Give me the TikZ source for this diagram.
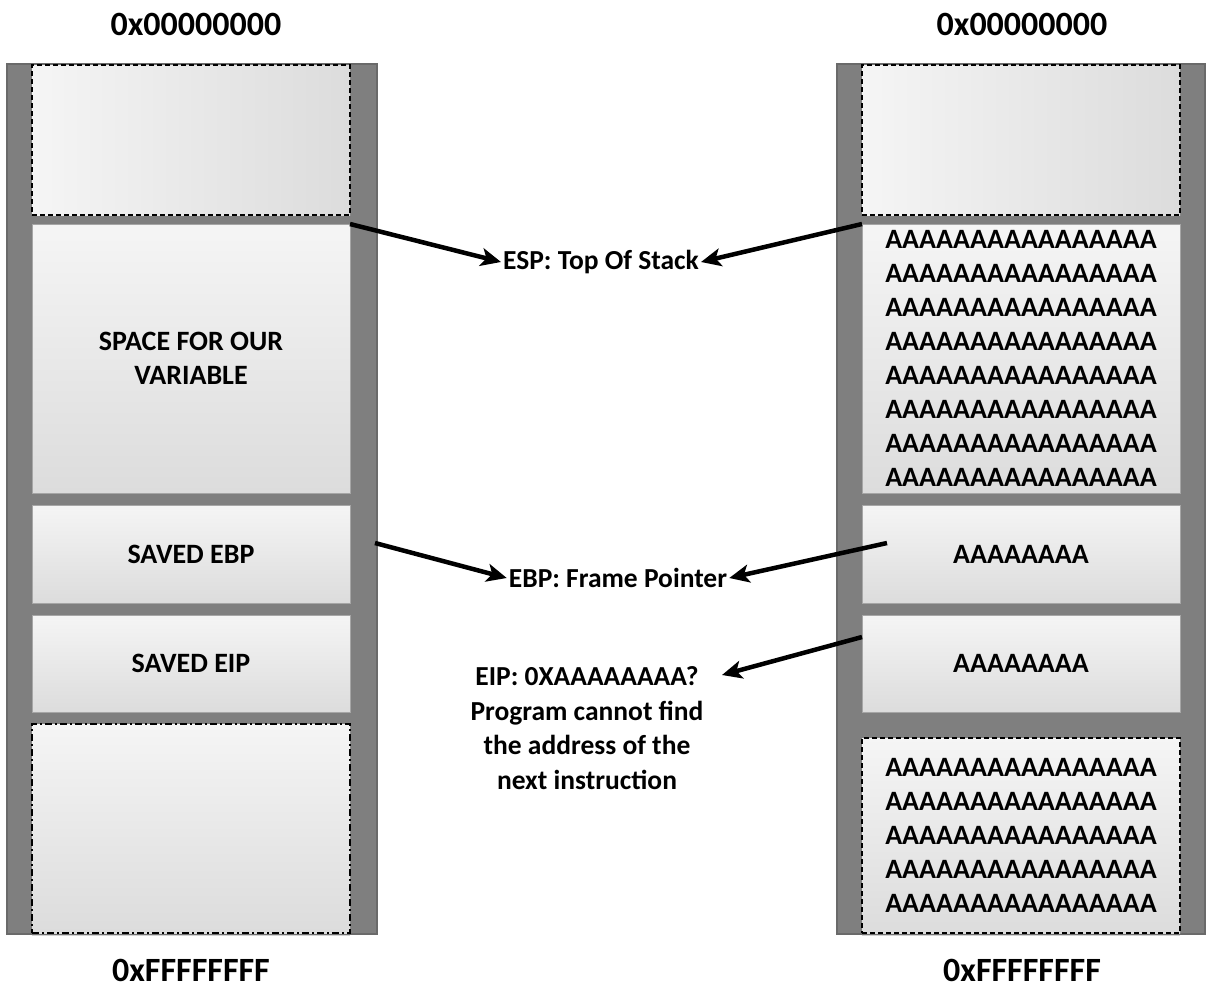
\documentclass[tikz,border=0pt]{standalone}
\usepackage{fontspec}
\setmainfont{Carlito}
\usetikzlibrary{arrows.meta,shadows}
\definecolor{colfill}{HTML}{7F7F7F}
\definecolor{coldraw}{HTML}{6A6A6A}
\definecolor{boxlight}{HTML}{F5F5F5}
\definecolor{boxdark}{HTML}{DCDCDC}
\definecolor{boxedge}{HTML}{A6A6A6}
\tikzset{
  column/.style={fill=colfill, draw=coldraw, line width=1.5pt},
  membox/.style={draw=boxedge, line width=0.8pt, top color=boxlight, bottom color=boxdark,
    minimum width=318pt, inner sep=0pt, outer sep=0pt, align=center,
    font=\bfseries\fontsize{28}{34}\selectfont,
    drop shadow={shadow xshift=0pt, shadow yshift=-3pt, opacity=0.35}},
  hbox/.style={membox, left color=boxlight, right color=boxdark},
  dashbox/.style={draw=black, line width=1.3pt, dash pattern=on 5pt off 3pt},
  dotbox/.style={draw=black, line width=1.3pt, dash pattern=on 7pt off 3pt on 2pt off 3pt},
  hexlabel/.style={font=\bfseries\fontsize{34}{40}\selectfont, inner sep=0pt},
  ptrlabel/.style={font=\bfseries\fontsize{27.5}{34.5}\selectfont, inner sep=2pt, align=center},
  ptrarrow/.style={line width=4.5pt, -{Stealth[length=20pt, width=18pt, inset=5pt]}},
}
\begin{document}
\begin{tikzpicture}[x=1pt, y=-1pt]
\useasboundingbox (0,0) rectangle (1209,993);
% columns
\path[column] (7,64) rectangle (377,934);
\path[column] (837,64) rectangle (1205,934);
% left boxes
\node[hbox, dashbox, minimum height=150pt] (ltop) at (191,140) {};
\node[membox, minimum height=269pt] (lvar) at (191,358.5) {SPACE FOR OUR\\VARIABLE};
\node[membox, minimum height=98pt] (lebp) at (191,554) {SAVED EBP};
\node[membox, minimum height=97pt] (leip) at (191,663.5) {SAVED EIP};
\node[membox, dotbox, minimum height=209pt] (lbot) at (191,828.5) {};
% right boxes
\node[hbox, dashbox, minimum height=150pt] (rtop) at (1021,140) {};
\node[membox, minimum height=269pt] (rvar) at (1021,358.5) {AAAAAAAAAAAAAAAA\\AAAAAAAAAAAAAAAA\\AAAAAAAAAAAAAAAA\\AAAAAAAAAAAAAAAA\\AAAAAAAAAAAAAAAA\\AAAAAAAAAAAAAAAA\\AAAAAAAAAAAAAAAA\\AAAAAAAAAAAAAAAA};
\node[membox, minimum height=98pt] (rebp) at (1021,554) {AAAAAAAA};
\node[membox, minimum height=97pt] (reip) at (1021,663.5) {AAAAAAAA};
\node[membox, dashbox, minimum height=195pt] (rbot) at (1021,835.5) {AAAAAAAAAAAAAAAA\\AAAAAAAAAAAAAAAA\\AAAAAAAAAAAAAAAA\\AAAAAAAAAAAAAAAA\\AAAAAAAAAAAAAAAA};
% hex labels
\node[hexlabel] (ltopaddr) at (196,24) {0x00000000};
\node[hexlabel] (rtopaddr) at (1022,24) {0x00000000};
\node[hexlabel] (lbotaddr) at (191,970) {0xFFFFFFFF};
\node[hexlabel] (rbotaddr) at (1022,970) {0xFFFFFFFF};
% pointer labels
\node[ptrlabel] (esp) at (601,262) {ESP: Top Of Stack};
\node[ptrlabel] (ebp) at (618,578) {EBP: Frame Pointer};
\node[ptrlabel] (eip) at (587,728) {EIP: 0XAAAAAAAA?\\Program cannot find\\the address of the\\next instruction};
% arrow start points
\coordinate (ebpfrom) at (375,543);
\coordinate (rebpfrom) at (887,543);
\coordinate (reipfrom) at (862,637);
\coordinate (eipto) at (722,675);
% arrows
\draw[ptrarrow] (lvar.north east) -- (esp.west);
\draw[ptrarrow] (rvar.north west) -- (esp.east);
\draw[ptrarrow] (ebpfrom) -- (ebp.west);
\draw[ptrarrow] (rebpfrom) -- (ebp.east);
\draw[ptrarrow] (reipfrom) -- (eipto);
\end{tikzpicture}
\end{document}
